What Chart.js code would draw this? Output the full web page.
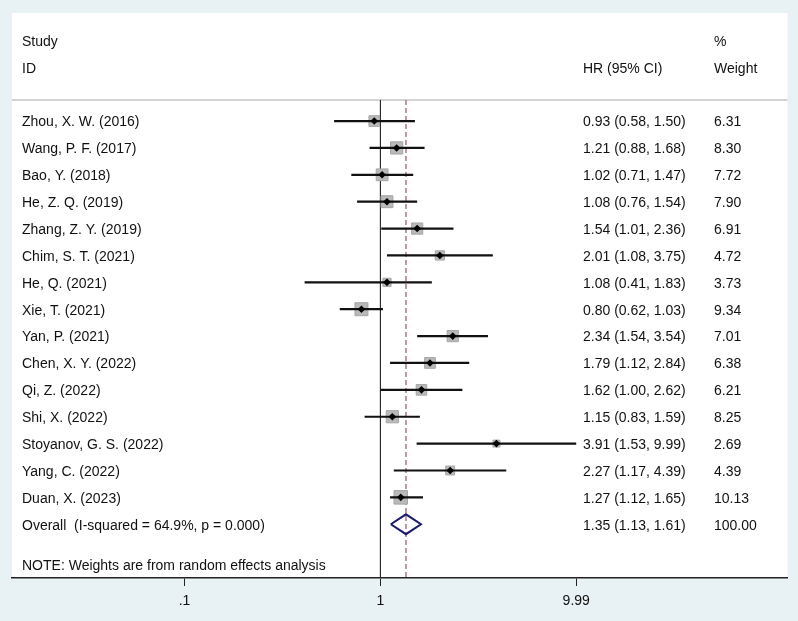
<!DOCTYPE html>
<html>
<head>
<meta charset="utf-8">
<script src="https://cdn.jsdelivr.net/npm/chart.js@4.4.1/dist/chart.umd.min.js"></script>
<style>
  html, body { margin: 0; padding: 0; background: #e8f1f3; }
  .forest { width: 798px; height: 621px; }
</style>
</head>
<body>
<div class="forest"><canvas id="plot"></canvas></div>
<script>
// study data
const studies = ["Zhou, X. W. (2016)", "Wang, P. F. (2017)", "Bao, Y. (2018)", "He, Z. Q. (2019)",
  "Zhang, Z. Y. (2019)", "Chim, S. T. (2021)", "He, Q. (2021)", "Xie, T. (2021)", "Yan, P. (2021)",
  "Chen, X. Y. (2022)", "Qi, Z. (2022)", "Shi, X. (2022)", "Stoyanov, G. S. (2022)", "Yang, C. (2022)",
  "Duan, X. (2023)"];
const hr     = [0.93, 1.21, 1.02, 1.08, 1.54, 2.01, 1.08, 0.80, 2.34, 1.79, 1.62, 1.15, 3.91, 2.27, 1.27];
const lower  = [0.58, 0.88, 0.71, 0.76, 1.01, 1.08, 0.41, 0.62, 1.54, 1.12, 1.00, 0.83, 1.53, 1.17, 1.12];
const upper  = [1.50, 1.68, 1.47, 1.54, 2.36, 3.75, 1.83, 1.03, 3.54, 2.84, 2.62, 1.59, 9.99, 4.39, 1.65];
const weights = [6.31, 8.30, 7.72, 7.90, 6.91, 4.72, 3.73, 9.34, 7.01, 6.38, 6.21, 8.25, 2.69, 4.39, 10.13];

const overallLabel = "Overall  (I-squared = 64.9%, p = 0.000)";
const overallHr = 1.35;
const overallLower = 1.13;
const overallUpper = 1.61;
const overallWeight = 100.00;
const note = "NOTE: Weights are from random effects analysis";

const tickValues = [0.1, 1, 9.99];
const tickLabels = [".1", "1", "9.99"];

// layout in row units (row 0 = first study)
const overallRow = studies.length;
const sepRow = -0.78;
const rowMin = -4.02, rowMax = 17.0;
const FONT = '14px "Liberation Sans", Arial, sans-serif';

const ciData = [];
studies.forEach((s, i) => {
  ciData.push({x: lower[i], y: i}, {x: upper[i], y: i}, {x: null, y: null});
});
const pts = studies.map((s, i) => ({x: hr[i], y: i}));
const dh = 0.37;
const diamond = [
  {x: overallLower, y: overallRow}, {x: overallHr, y: overallRow - dh},
  {x: overallUpper, y: overallRow}, {x: overallHr, y: overallRow + dh},
  {x: overallLower, y: overallRow}
];

const fmt = v => v.toFixed(2);

const backdrop = {
  id: "backdrop",
  beforeDraw(chart) {
    const {ctx, chartArea: a} = chart;
    ctx.save();
    ctx.fillStyle = "#e8f1f3";
    ctx.fillRect(0, 0, chart.width, chart.height);
    ctx.fillStyle = "#ffffff";
    ctx.fillRect(a.left, a.top, a.right - a.left, a.bottom - a.top);
    // header separator
    const ys = chart.scales.y.getPixelForValue(sepRow);
    ctx.strokeStyle = "#c4c4c4";
    ctx.lineWidth = 1.5;
    ctx.beginPath();
    ctx.moveTo(a.left, ys);
    ctx.lineTo(a.right, ys);
    ctx.stroke();
    ctx.restore();
  }
};

const columns = {
  id: "columns",
  afterDraw(chart) {
    const {ctx, chartArea: a} = chart;
    const y = chart.scales.y;
    const row = r => y.getPixelForValue(r) + 1.5;
    const xName = a.left + 10, xHr = a.left + 571, xW = a.left + 702;
    ctx.save();
    ctx.font = FONT;
    ctx.fillStyle = "#111111";
    ctx.textBaseline = "middle";
    ctx.textAlign = "left";
    ctx.fillText("Study", xName, row(-3));
    ctx.fillText("ID", xName, row(-2));
    ctx.fillText("HR (95% CI)", xHr, row(-2));
    ctx.fillText("%", xW, row(-3));
    ctx.fillText("Weight", xW, row(-2));
    studies.forEach((s, i) => {
      const py = row(i);
      ctx.fillText(s, xName, py);
      ctx.fillText(`${fmt(hr[i])} (${fmt(lower[i])}, ${fmt(upper[i])})`, xHr, py);
      ctx.fillText(fmt(weights[i]), xW, py);
    });
    const po = row(overallRow);
    ctx.fillText(overallLabel, xName, po);
    ctx.fillText(`${fmt(overallHr)} (${fmt(overallLower)}, ${fmt(overallUpper)})`, xHr, po);
    ctx.fillText(fmt(overallWeight), xW, po);
    ctx.fillText(note, xName, row(overallRow + 1.5));
    ctx.restore();
  }
};

new Chart(document.getElementById("plot"), {
  type: "scatter",
  data: {
    datasets: [
      { // null line
        data: [{x: 1, y: sepRow}, {x: 1, y: rowMax}],
        showLine: true, borderColor: "#2a2a2a", borderWidth: 1.2, pointRadius: 0, order: 10
      },
      { // overall estimate line
        data: [{x: overallHr, y: sepRow}, {x: overallHr, y: rowMax}],
        showLine: true, borderColor: "#b07484", borderWidth: 1.5, borderDash: [5, 3], pointRadius: 0, order: 9
      },
      { // weight boxes
        data: pts,
        pointStyle: "rect",
        pointRadius: c => 3.0 * Math.sqrt(weights[c.dataIndex]),
        backgroundColor: "#b9b9b9", borderColor: "#a6a6a6", borderWidth: 1, order: 8
      },
      { // confidence intervals
        data: ciData,
        showLine: true, spanGaps: false, borderColor: "#111111", borderWidth: 2.2, pointRadius: 0, order: 6
      },
      { // point estimates
        data: pts,
        pointStyle: "rectRot", pointRadius: 3.8,
        backgroundColor: "#000000", borderColor: "#000000", borderWidth: 0, order: 4
      },
      { // pooled diamond
        data: diamond,
        showLine: true, fill: false, borderColor: "#1b1b6b", borderWidth: 2, pointRadius: 0, order: 2
      }
    ]
  },
  options: {
    responsive: true,
    maintainAspectRatio: false,
    animation: false,
    events: [],
    layout: { padding: { left: 12, right: 10, top: 13, bottom: 0 } },
    plugins: { legend: { display: false }, tooltip: { enabled: false } },
    scales: {
      x: {
        type: "logarithmic",
        bounds: "data",
        min: Math.pow(10, -1.881),
        max: Math.pow(10, 2.078),
        afterBuildTicks: s => { s.ticks = tickValues.map(v => ({value: v})); },
        afterFit: s => { s.height = 43; },
        ticks: {
          autoSkip: false, maxRotation: 0, padding: 7,
          color: "#111111", font: { family: '"Liberation Sans", Arial, sans-serif', size: 14 },
          callback: v => tickLabels[tickValues.indexOf(v)]
        },
        grid: { display: true, drawOnChartArea: false, drawTicks: true, tickLength: 8, color: "#222222", lineWidth: 1 },
        border: { display: true, color: "#222222", width: 1.5 }
      },
      y: {
        type: "linear",
        reverse: true,
        min: rowMin,
        max: rowMax,
        display: false
      }
    }
  },
  plugins: [backdrop, columns]
});
</script>
</body>
</html>
